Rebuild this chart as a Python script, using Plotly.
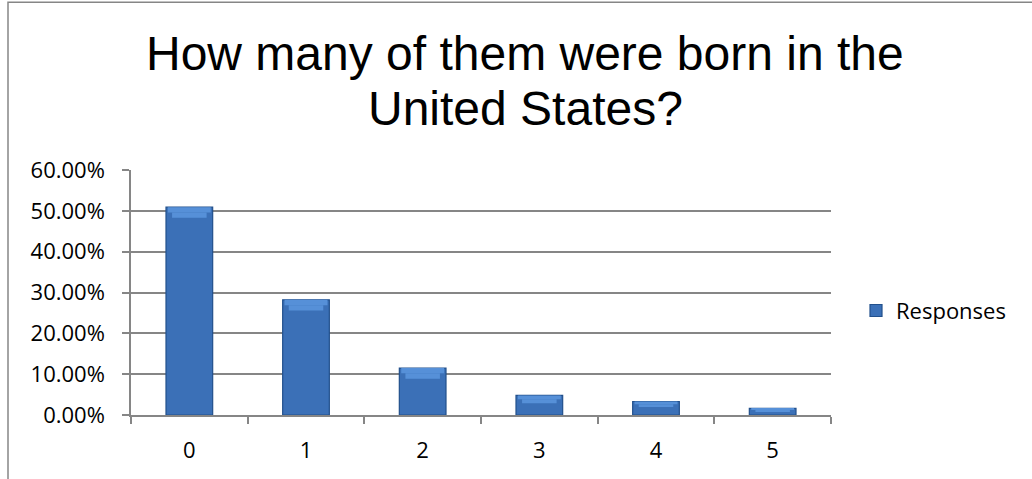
import plotly.graph_objects as go

# Survey responses: share of respondents by count born in the United States
categories = ["0", "1", "2", "3", "4", "5"]
responses = [50.9, 28.2, 11.5, 4.8, 3.3, 1.6]
y_ticks = [0, 10, 20, 30, 40, 50, 60]
y_tick_labels = [f"{v:.2f}%" for v in y_ticks]

title_lines = ["How many of them were born in the", "United States?"]

W, H = 1032, 479
L, R, T, B = 131, 201, 170, 63.5
plot_w = W - L - R
plot_h = H - T - B


def px_x(px):
    return (px - L) / plot_w


def px_y(py):
    return (H - B - py) / plot_h


BAR_W = 0.40
fig = go.Figure()

# main bar body
fig.add_trace(go.Bar(
    x=categories, y=responses, name="Responses", width=BAR_W,
    marker=dict(color="#3b70b7", line=dict(color="#22508c", width=1.2)),
    showlegend=True, hoverinfo="skip",
))

# bevel on the top edge: a stepped trapezoid, wide at the top, narrower below
cap = [min(2.6, v * 0.4) for v in responses]
for frac_lo, frac_hi, w in [(0.5, 1.0, 0.92), (0.0, 0.5, 0.74)]:
    fig.add_trace(go.Bar(
        x=categories,
        y=[c * (frac_hi - frac_lo) for c in cap],
        base=[v - c + c * frac_lo for v, c in zip(responses, cap)],
        width=BAR_W * w, marker=dict(color="#5690d8", line=dict(width=0)),
        showlegend=False, hoverinfo="skip",
    ))

annotations = []
for text, py in zip(title_lines, [53.5, 108.5]):
    annotations.append(dict(
        text=text, xref="paper", yref="paper", x=px_x(525), y=px_y(py),
        xanchor="center", yanchor="middle", showarrow=False,
        font=dict(family="Liberation Sans, Arial, sans-serif", size=48, color="#000000"),
    ))

fig.update_layout(
    width=W, height=H,
    margin=dict(l=L, r=R, t=T, b=B, pad=0),
    paper_bgcolor="#ffffff", plot_bgcolor="#ffffff",
    barmode="overlay",
    font=dict(family="Open Sans, sans-serif", size=22, color="#000000"),
    annotations=annotations,
    showlegend=True,
    legend=dict(
        x=px_x(856), y=px_y(311), xanchor="left", yanchor="middle",
        font=dict(family="Open Sans, sans-serif", size=22, color="#000000"),
        bgcolor="rgba(0,0,0,0)", itemclick=False,
    ),
    xaxis=dict(
        type="category", range=[-0.5, 5.5],
        showline=True, linecolor="#868686", linewidth=1.5,
        ticks="outside", tickson="boundaries", ticklen=7, tickcolor="#868686", tickwidth=1.5,
        ticklabelstandoff=15,
        showgrid=False, zeroline=False, fixedrange=True,
    ),
    yaxis=dict(
        range=[0, 60], tickvals=y_ticks, ticktext=y_tick_labels,
        showline=True, linecolor="#868686", linewidth=1.5,
        ticks="outside", ticklen=7, tickcolor="#868686", tickwidth=1.5,
        ticklabelstandoff=13,
        showgrid=True, gridcolor="#868686", gridwidth=1.5,
        zeroline=False, fixedrange=True,
    ),
    shapes=[dict(
        type="rect", xref="paper", yref="paper",
        x0=px_x(8), x1=px_x(W + 20), y0=px_y(H + 20), y1=px_y(2),
        line=dict(color="#868686", width=1.5), fillcolor="rgba(0,0,0,0)", layer="below",
    )],
)

fig.write_html("out.html", config={"displayModeBar": False})
